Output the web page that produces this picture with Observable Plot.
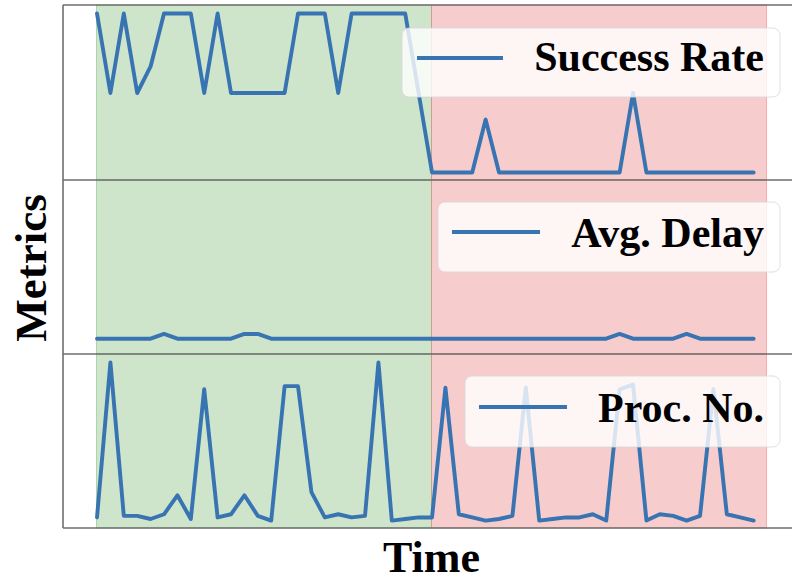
<!DOCTYPE html>
<html>
<head>
<meta charset="utf-8">
<script src="https://cdn.jsdelivr.net/npm/d3@7"></script>
<script src="https://cdn.jsdelivr.net/npm/@observablehq/plot@0.6"></script>
<style>
  html, body { margin: 0; padding: 0; background: #fff; overflow: hidden; }
  #root { position: relative; width: 792px; height: 581px; overflow: hidden; }
  .panel { position: absolute; left: 0; }
  #overlay { position: absolute; left: 0; top: 0; }
  .lbl { font-family: "Liberation Serif", "Times New Roman", serif; font-weight: bold; fill: #000; }
</style>
</head>
<body>
<div id="root"></div>
<script>
// ---- data (50 time steps) ----
const seriesNames = ["Success Rate", "Avg. Delay", "Proc. No."];

const successRate = [
  1, 0.5, 1, 0.5, 0.667, 1, 1, 1, 0.5, 1,
  0.5, 0.5, 0.5, 0.5, 0.5, 1, 1, 1, 0.5, 1,
  1, 1, 1, 1, 0.5, 0, 0, 0, 0, 0.333,
  0, 0, 0, 0, 0, 0, 0, 0, 0, 0,
  0.5, 0, 0, 0, 0, 0, 0, 0, 0, 0
];

const avgDelay = [
  0.05, 0.05, 0.05, 0.05, 0.05, 0.08, 0.05, 0.05, 0.05, 0.05,
  0.05, 0.08, 0.08, 0.05, 0.05, 0.05, 0.05, 0.05, 0.05, 0.05,
  0.05, 0.05, 0.05, 0.05, 0.05, 0.05, 0.05, 0.05, 0.05, 0.05,
  0.05, 0.05, 0.05, 0.05, 0.05, 0.05, 0.05, 0.05, 0.05, 0.08,
  0.05, 0.05, 0.05, 0.05, 0.08, 0.05, 0.05, 0.05, 0.05, 0.05
];

const procNo = [
  0.02, 1.0, 0.03, 0.03, 0.01, 0.04, 0.16, 0.01, 0.83, 0.02,
  0.04, 0.16, 0.03, 0.0, 0.85, 0.85, 0.18, 0.02, 0.04, 0.02,
  0.03, 1.0, 0.0, 0.01, 0.02, 0.02, 0.84, 0.04, 0.02, 0.0,
  0.01, 0.03, 0.84, 0.0, 0.01, 0.02, 0.02, 0.04, 0.0, 0.83,
  0.86, 0.0, 0.04, 0.03, 0.0, 0.03, 0.83, 0.04, 0.02, 0.0
];

const phases = [
  { name: "normal", start: 0, end: 25 },
  { name: "attack", start: 25, end: 50 }
];

// ---- styles ----
const phaseFill = { normal: "#cfe5cb", attack: "#f7cccc" };
const phaseEdge = { normal: "rgba(0,128,0,0.25)", attack: "rgba(220,0,0,0.25)" };
const lineColor = "#3873b2";

const root = document.getElementById("root");

function panel(values, top, height) {
  const data = values.map((v, i) => ({ t: i, v }));
  const svg = Plot.plot({
    width: 792,
    height,
    marginLeft: 63,
    marginRight: 0,
    marginTop: 0,
    marginBottom: 0,
    style: { background: "transparent", overflow: "visible" },
    x: { domain: [-2.5, 51.9], axis: null },
    y: { domain: [-0.05, 1.05], axis: null },
    color: { type: "identity" },
    marks: [
      Plot.rect(phases, {
        x1: "start", x2: "end",
        fill: d => phaseFill[d.name],
        stroke: d => phaseEdge[d.name],
        strokeWidth: 1
      }),
      Plot.line(data, { x: "t", y: "v", stroke: lineColor, strokeWidth: 3.9 })
    ]
  });
  const div = document.createElement("div");
  div.className = "panel";
  div.style.top = top + "px";
  div.appendChild(svg);
  root.appendChild(div);
}

const panelTops = [5, 180, 354];
const panelHeights = [175, 174, 174];
[successRate, avgDelay, procNo].forEach((vals, k) => panel(vals, panelTops[k], panelHeights[k]));

// ---- overlay: frame, legends, axis labels ----
const ov = d3.select(root).append("svg")
  .attr("id", "overlay")
  .attr("width", 792).attr("height", 581);

const frameColor = "#6e6e6e";
[5, 180, 354, 528].forEach(y => {
  ov.append("line").attr("x1", 63).attr("x2", 792).attr("y1", y).attr("y2", y)
    .attr("stroke", frameColor).attr("stroke-width", 1.6);
});
ov.append("line").attr("x1", 63).attr("x2", 63).attr("y1", 5).attr("y2", 528)
  .attr("stroke", frameColor).attr("stroke-width", 1.6);

const legends = [
  { box: [402, 28, 378, 69], line: [417, 503, 58], baseline: 71 },
  { box: [438, 202, 342, 70], line: [452, 540, 232], baseline: 246.5 },
  { box: [465, 376, 315, 71], line: [479, 567, 407], baseline: 421.5 }
];
legends.forEach((lg, k) => {
  const g = ov.append("g");
  g.append("rect")
    .attr("x", lg.box[0]).attr("y", lg.box[1])
    .attr("width", lg.box[2]).attr("height", lg.box[3])
    .attr("rx", 7).attr("ry", 7)
    .attr("fill", "rgba(255,255,255,0.8)")
    .attr("stroke", "rgba(215,215,215,0.8)").attr("stroke-width", 1);
  g.append("line")
    .attr("x1", lg.line[0]).attr("x2", lg.line[1])
    .attr("y1", lg.line[2]).attr("y2", lg.line[2])
    .attr("stroke", lineColor).attr("stroke-width", 3.9);
  g.append("text")
    .attr("class", "lbl")
    .attr("x", 764).attr("y", lg.baseline)
    .attr("text-anchor", "end")
    .attr("font-size", 42)
    .text(seriesNames[k]);
});

ov.append("text")
  .attr("class", "lbl")
  .attr("transform", "translate(45.5,268) rotate(-90)")
  .attr("text-anchor", "middle")
  .attr("font-size", 45)
  .text("Metrics");

ov.append("text")
  .attr("class", "lbl")
  .attr("x", 431.5).attr("y", 571.5)
  .attr("text-anchor", "middle")
  .attr("font-size", 44)
  .text("Time");
</script>
</body>
</html>
